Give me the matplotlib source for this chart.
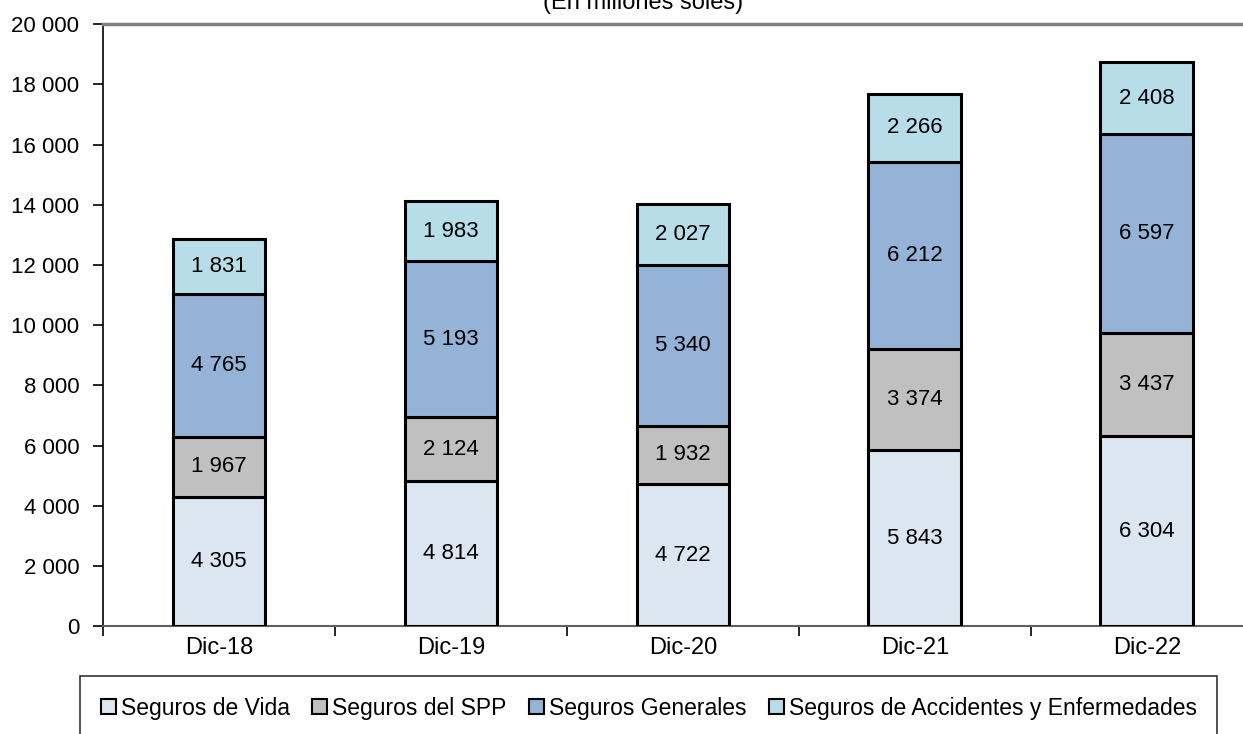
import matplotlib.pyplot as plt
import numpy as np
from matplotlib.ticker import FuncFormatter, MultipleLocator, FixedLocator

plt.rcParams['font.family'] = ['Liberation Sans', 'DejaVu Sans']

periods = ['Dic-18', 'Dic-19', 'Dic-20', 'Dic-21', 'Dic-22']
vida = [4305, 4814, 4722, 5843, 6304]
spp = [1967, 2124, 1932, 3374, 3437]
generales = [4765, 5193, 5340, 6212, 6597]
accidentes = [1831, 1983, 2027, 2266, 2408]

series = [
    ('Seguros de Vida', vida, '#DCE6F1'),
    ('Seguros del SPP', spp, '#C0C0C0'),
    ('Seguros Generales', generales, '#95B3D7'),
    ('Seguros de Accidentes y Enfermedades', accidentes, '#B7DEE8'),
]


def fmt(v):
    return f'{int(v):,}'.replace(',', ' ')


fig = plt.figure(figsize=(12.43, 7.34), dpi=100)
ax = fig.add_axes([0.0829, 0.147, 0.933, 0.820])

x = np.arange(len(periods))
bottom = np.zeros(len(periods))
for name, vals, col in series:
    vals = np.array(vals, dtype=float)
    ax.bar(x, vals, 0.4, bottom=bottom, color=col, edgecolor='black',
           linewidth=2.2, label=name, zorder=3)
    for xi, b, v in zip(x, bottom, vals):
        ax.text(xi, b + v / 2, fmt(v), ha='center', va='center', fontsize=16)
    bottom += vals

ax.set_xlim(-0.5, len(periods) - 0.5)
ax.set_ylim(0, 20000)
ax.yaxis.set_major_locator(MultipleLocator(2000))
ax.yaxis.set_major_formatter(FuncFormatter(lambda v, p: fmt(v)))
ax.set_xticks(x)
ax.set_xticklabels(periods)
ax.xaxis.set_minor_locator(FixedLocator(np.arange(len(periods) + 1) - 0.5))
ax.tick_params(axis='x', which='major', length=0, labelsize=17, pad=8)
ax.tick_params(axis='x', which='minor', length=7, width=1.2, direction='out')
ax.tick_params(axis='y', length=7, width=1.2, labelsize=16, direction='out', pad=10)

ax.spines['right'].set_visible(False)
ax.spines['top'].set_color('#808080')
ax.spines['top'].set_linewidth(2.5)
ax.spines['bottom'].set_color('#606060')
ax.spines['bottom'].set_linewidth(1.5)
ax.spines['left'].set_color('black')
ax.spines['left'].set_linewidth(1.2)

# subtitle sits partly above the top edge, as in the source chart
fig.text(0.517, 1 - 9 / 734, '(En millones soles)', ha='center', va='baseline',
         fontsize=17)

leg = fig.legend(loc='upper center', bbox_to_anchor=(0.522, 1 - 676 / 734), ncol=4,
                 fontsize=16.5, frameon=True, fancybox=False, edgecolor='black',
                 handlelength=0.65, handleheight=0.65, handletextpad=0.2,
                 columnspacing=1.0, borderpad=0.9, borderaxespad=0)
leg.get_frame().set_linewidth(1.2)
for h in leg.legend_handles:
    h.set_linewidth(1.5)

fig.savefig('out.png', dpi=100)
